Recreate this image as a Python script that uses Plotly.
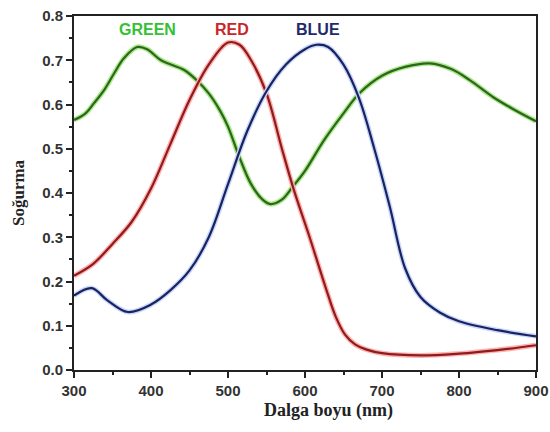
import plotly.graph_objects as go

green_wl = [300, 315, 326, 340, 352, 365, 382, 395, 413, 443, 458, 475, 490, 500, 515, 530, 545, 555, 570, 584, 600, 625, 650, 671, 700, 730, 762, 790, 814, 844, 870, 900]
green_ab = [0.565, 0.58, 0.603, 0.635, 0.67, 0.705, 0.73, 0.725, 0.70, 0.678, 0.657, 0.625, 0.585, 0.55, 0.48, 0.42, 0.385, 0.375, 0.385, 0.414, 0.45, 0.52, 0.58, 0.626, 0.665, 0.685, 0.693, 0.68, 0.655, 0.617, 0.59, 0.562]

red_wl = [300, 325, 350, 375, 400, 425, 450, 475, 500, 515, 530, 550, 570, 585, 606, 628, 640, 652, 665, 680, 700, 750, 800, 850, 900]
red_ab = [0.213, 0.24, 0.285, 0.335, 0.41, 0.51, 0.61, 0.69, 0.74, 0.735, 0.70, 0.625, 0.50, 0.41, 0.30, 0.18, 0.12, 0.08, 0.058, 0.046, 0.038, 0.033, 0.037, 0.045, 0.056]

blue_wl = [300, 323, 343, 370, 400, 425, 450, 475, 500, 525, 550, 575, 600, 615, 630, 650, 670, 690, 710, 730, 750, 775, 800, 850, 900]
blue_ab = [0.168, 0.185, 0.158, 0.131, 0.148, 0.18, 0.225, 0.30, 0.42, 0.54, 0.63, 0.69, 0.725, 0.735, 0.73, 0.69, 0.615, 0.50, 0.37, 0.23, 0.165, 0.13, 0.11, 0.09, 0.076]

labels = ["GREEN", "RED", "BLUE"]
label_x = [395, 505, 617]
label_y = [0.77, 0.77, 0.77]

series = [
    (green_wl, green_ab, "#a6ea84", "#2f6320", "#35c035"),
    (red_wl, red_ab, "#ffb0b0", "#8e1c1c", "#c8262a"),
    (blue_wl, blue_ab, "#c8d8f8", "#1b2262", "#1f2a6b"),
]

fig = go.Figure()
for wl, ab, halo, core, _ in series:
    fig.add_trace(go.Scatter(x=wl, y=ab, mode="lines", line=dict(color=halo, width=5, shape="spline", smoothing=1.0), hoverinfo="skip", showlegend=False))
    fig.add_trace(go.Scatter(x=wl, y=ab, mode="lines", line=dict(color=core, width=2.2, shape="spline", smoothing=1.0), showlegend=False))

for lab, lx, ly, s in zip(labels, label_x, label_y, series):
    fig.add_annotation(x=lx, y=ly, text=f"<b>{lab}</b>", showarrow=False,
                       font=dict(family="Liberation Sans, Arial", size=16, color=s[4]))

fig.add_annotation(x=0.5, y=-0.115, xref="paper", yref="paper", text="<b>Dalga boyu (nm)</b>", showarrow=False,
                   xanchor="center", yanchor="middle", xshift=23,
                   font=dict(family="Liberation Serif, Times New Roman", size=18, color="#222"))
fig.add_annotation(x=0, y=0.5, xref="paper", yref="paper", text="<b>Soğurma</b>", showarrow=False,
                   textangle=-90, xanchor="center", yanchor="middle", xshift=-56,
                   font=dict(family="Liberation Serif, Times New Roman", size=17, color="#222"))

axis_common = dict(showline=True, linecolor="#222", linewidth=2, mirror=True, showgrid=False, zeroline=False,
                   automargin=False,
                   ticks="outside", ticklen=6, tickwidth=2, tickcolor="#222",
                   tickfont=dict(family="Liberation Sans, Arial", size=15, color="#333", weight="bold"))

fig.update_xaxes(range=[300, 900], dtick=100, tick0=300,
                 minor=dict(dtick=50, ticks="outside", ticklen=3, tickwidth=2, tickcolor="#222"),
                 **axis_common)
fig.update_yaxes(range=[0, 0.8], dtick=0.1, tick0=0, tickformat=".1f",
                 minor=dict(dtick=0.05, ticks="outside", ticklen=3, tickwidth=2, tickcolor="#222"),
                 **axis_common)

fig.update_layout(width=550, height=432, margin=dict(l=74, r=14, t=16, b=62),
                  paper_bgcolor="white", plot_bgcolor="white")

fig.write_html("out.html")
